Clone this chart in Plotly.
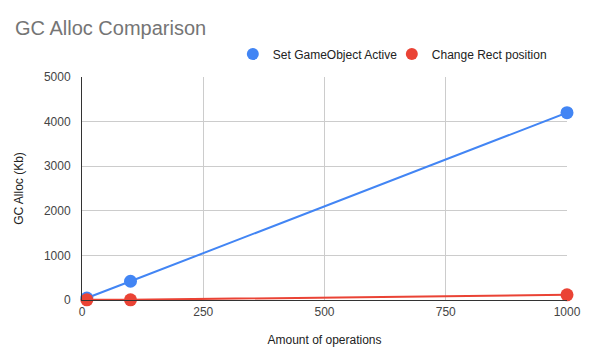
import plotly.graph_objects as go

operations = [10, 100, 1000]
set_active = [45, 420, 4200]
change_rect = [5, 5, 115]

series = [("Set GameObject Active", set_active, "#4285F4"),
          ("Change Rect position", change_rect, "#EA4335")]

fig = go.Figure()
for name, vals, col in series:
    fig.add_trace(go.Scatter(x=operations, y=vals, name=name, showlegend=False,
                             mode="lines+markers", line=dict(color=col, width=2),
                             marker=dict(size=13, color=col), cliponaxis=False))
for name, vals, col in series:
    fig.add_trace(go.Scatter(x=[None], y=[None], name=name, mode="markers",
                             marker=dict(size=12, color=col)))

# page body has an 8px margin, so the figure is shrunk/offset to compensate
fig.update_layout(
    width=581, height=352,
    margin=dict(l=74, r=22, t=69, b=60, autoexpand=False),
    paper_bgcolor="white", plot_bgcolor="white",
    font=dict(family="Liberation Sans, Arial, sans-serif", size=12, color="#222222"),
    title=dict(text="GC Alloc Comparison", x=0.012, xanchor="left", y=0.943, yanchor="middle",
               font=dict(size=20, color="#757575")),
    legend=dict(orientation="h", x=0.311, xanchor="left", y=1.103, yanchor="middle",
                font=dict(size=12, color="#222222"), itemwidth=30, tracegroupgap=0,
                entrywidth=114, entrywidthmode="pixels"),
    showlegend=True,
)
fig.update_xaxes(range=[0, 1000], tickvals=[0, 250, 500, 750, 1000],
                 showgrid=True, gridcolor="#cccccc", zeroline=False,
                 showline=True, linecolor="#333333", ticks="outside", ticklen=1,
                 tickcolor="rgba(0,0,0,0)", automargin=False,
                 title=dict(text="Amount of operations", font=dict(size=12, color="#222222"),
                            standoff=17),
                 tickfont=dict(size=12, color="#444444"))
fig.update_yaxes(range=[0, 5000], tickvals=[0, 1000, 2000, 3000, 4000, 5000],
                 showgrid=True, gridcolor="#cccccc", zeroline=False,
                 showline=True, linecolor="#333333", ticks="outside", ticklen=8,
                 tickcolor="rgba(0,0,0,0)", automargin=False,
                 title=dict(text="GC Alloc (Kb)", font=dict(size=12, color="#222222"),
                            standoff=17),
                 tickfont=dict(size=12, color="#444444"))

fig.write_html("out.html")
